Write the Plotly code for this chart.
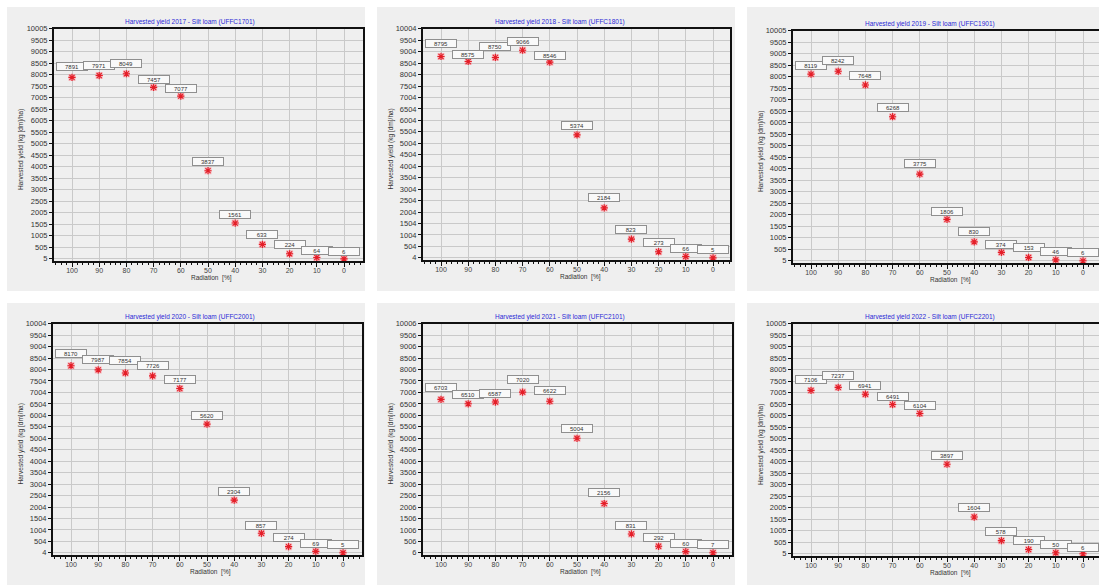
import plotly.graph_objects as go

W, H = 1099, 587

# ---- data -------------------------------------------------------------
radiation = [100, 90, 80, 70, 60, 50, 40, 30, 20, 10, 0]
years = [2017, 2018, 2019, 2020, 2021, 2022]
field_codes = ["UFFC1701", "UFFC1801", "UFFC1901", "UFFC2001", "UFFC2101", "UFFC2201"]

yield_2017 = [7891, 7971, 8049, 7457, 7077, 3837, 1561, 633, 224, 64, 6]
yield_2018 = [8795, 8575, 8750, 9066, 8546, 5374, 2184, 823, 273, 66, 5]
yield_2019 = [8119, 8242, 7648, 6268, 3775, 1806, 830, 374, 153, 46, 6]
yield_2020 = [8170, 7987, 7854, 7726, 7177, 5620, 2304, 857, 274, 69, 5]
yield_2021 = [6703, 6510, 6587, 7020, 6622, 5004, 2156, 831, 292, 60, 7]
yield_2022 = [7106, 7237, 6941, 6491, 6104, 3897, 1604, 578, 190, 50, 6]
yields = [yield_2017, yield_2018, yield_2019, yield_2020, yield_2021, yield_2022]

# first y tick of each chart (ticks run every 500 from here)
y_tick_base = [5, 4, 5, 4, 6, 5]

# ---- layout helpers ---------------------------------------------------
# per chart: panel origin, plot-area edges (px); "cut" charts run off the right edge
panels = [
    dict(ox=0,   oy=0,   L=54,  R=363,  T=25,  B=260, cut=False),
    dict(ox=370, oy=0,   L=423, R=730,  T=25,  B=259, cut=False),
    dict(ox=740, oy=0,   L=793, R=1099, T=27,  B=262, cut=True),
    dict(ox=0,   oy=295, L=53,  R=362,  T=323, B=557, cut=False),
    dict(ox=370, oy=295, L=423, R=732,  T=323, B=557, cut=False),
    dict(ox=740, oy=295, L=793, R=1099, T=323, B=558, cut=True),
]
# grey chart backgrounds (px)
panel_boxes = [
    (7, 3, 365, 290), (377, 3, 735, 290), (747, 3, 1099, 290),
    (7, 302, 365, 587), (377, 302, 735, 587), (747, 302, 1099, 587),
]
# vertical lift of each value box above its marker (px)
label_lift = [
    [11, 10, 10, 8, 8, 9, 9, 10, 9, 7.5, 7.5],
    [13, 7, 11, 9, 7, 9, 10, 10, 9, 8, 8],
    [9, 11, 9, 9, 11, 8, 10, 8, 10, 8, 8],
    [12, 10, 12, 10, 9, 9, 9, 8, 9, 8, 8],
    [12, 9, 9, 13, 11, 10, 11, 8, 9, 8, 8],
    [11, 12, 9, 8, 8, 9, 10, 9, 9, 8, 6],
]

FONT = "Liberation Sans, Arial, sans-serif"
PX_PER_X = 2.72        # px per radiation unit
X100_OFFSET = 18       # px from plot left edge to x = 100

def px(x):
    return x / W

def py(y):
    return 1 - y / H

fig = go.Figure()
shapes = []
annotations = []
layout_axes = {}

for i, (yr, code, vals, base, p) in enumerate(zip(years, field_codes, yields, y_tick_base, panels)):
    sfx = "" if i == 0 else str(i + 1)
    xa, ya = "x" + sfx, "y" + sfx

    x_left = 100 + X100_OFFSET / PX_PER_X
    x_right = -((p["R"] - p["L"]) - (X100_OFFSET + 100 * PX_PER_X)) / PX_PER_X
    units_per_px = 10000 / ((p["B"] - p["T"]) - 2.5)
    y_low = base - 2.5 * units_per_px
    y_high = base + 10000

    layout_axes["xaxis" + sfx] = dict(
        domain=[px(p["L"]), px(p["R"])], range=[x_left, x_right], anchor=ya,
        tickmode="array", tickvals=radiation, ticktext=[str(v) for v in radiation],
        showgrid=True, gridcolor="#c9c9c9", gridwidth=1, zeroline=False,
        showline=True, linecolor="#111111", linewidth=2, mirror=True,
        ticks="outside", ticklen=4, tickcolor="#111111", tickwidth=1,
        ticklabelstandoff=-3,
        tickfont=dict(family=FONT, size=7, color="#444444"),
        minor=dict(tickmode="linear", tick0=0, dtick=2, ticks="outside", ticklen=2,
                   tickcolor="#111111", showgrid=False),
        fixedrange=True,
    )
    layout_axes["yaxis" + sfx] = dict(
        domain=[py(p["B"]), py(p["T"])], range=[y_low, y_high], anchor=xa,
        tickmode="array", tickvals=[base + 500 * k for k in range(21)],
        ticktext=[str(base + 500 * k) for k in range(21)],
        showgrid=True, gridcolor="#c9c9c9", gridwidth=1, zeroline=False,
        showline=True, linecolor="#111111", linewidth=2, mirror=not p["cut"],
        ticks="outside", ticklen=3, tickcolor="#111111", tickwidth=1,
        tickfont=dict(family=FONT, size=7.5, color="#333333"),
        fixedrange=True,
    )

    # pink halo behind each marker, then the red asterisk
    fig.add_trace(go.Scatter(
        x=radiation, y=vals, mode="markers", xaxis=xa, yaxis=ya, showlegend=False,
        marker=dict(symbol="square", size=7, color="rgba(255,120,130,0.45)", line=dict(width=0)),
        hoverinfo="skip",
    ))
    fig.add_trace(go.Scatter(
        x=radiation, y=vals, mode="markers", xaxis=xa, yaxis=ya, showlegend=False,
        marker=dict(symbol="asterisk-open", size=6, color="#e41e28",
                    line=dict(color="#e41e28", width=1.1)),
        name=str(yr),
    ))

    # value boxes
    for r, v, lift in zip(radiation, vals, label_lift[i]):
        annotations.append(dict(
            x=r, y=v, xref=xa, yref=ya, yshift=lift, showarrow=False,
            text=str(v), font=dict(family=FONT, size=6, color="#333333"),
            bgcolor="#f9f9f9", bordercolor="#8f8f8f", borderwidth=1, borderpad=0,
            width=30, height=7, align="center",
        ))

    # chart title
    annotations.append(dict(
        x=px(p["ox"] + 190), y=py(p["T"] - 7), xref="paper", yref="paper",
        xanchor="center", yanchor="middle", showarrow=False,
        text=f"Harvested yield {yr} - Silt loam ({code})",
        font=dict(family=FONT, size=6.5, color="#2a2ad6"),
    ))
    # axis titles
    annotations.append(dict(
        x=px(p["ox"] + 21), y=py((p["T"] + p["B"]) / 2 + 5), xref="paper", yref="paper",
        xanchor="center", yanchor="middle", showarrow=False, textangle=-90,
        text="Harvested yield (kg [dm]/ha)",
        font=dict(family=FONT, size=6.5, color="#333333"),
    ))
    annotations.append(dict(
        x=px(p["L"] + 157), y=py(p["B"] + 17), xref="paper", yref="paper",
        xanchor="center", yanchor="middle", showarrow=False,
        text="Radiation  [%]",
        font=dict(family=FONT, size=6.5, color="#333333"),
    ))

for (x0, y0, x1, y1) in panel_boxes:
    shapes.append(dict(
        type="rect", xref="paper", yref="paper", layer="below",
        x0=px(x0), x1=px(x1), y0=py(y1), y1=py(y0),
        fillcolor="#efefef", line=dict(width=0),
    ))

fig.update_layout(
    width=W, height=H, margin=dict(l=0, r=0, t=0, b=0),
    paper_bgcolor="white", plot_bgcolor="#f8f8f8",
    shapes=shapes, annotations=annotations, showlegend=False,
    font=dict(family=FONT),
    **layout_axes,
)

fig.write_html("out.html", config={"displayModeBar": False})
